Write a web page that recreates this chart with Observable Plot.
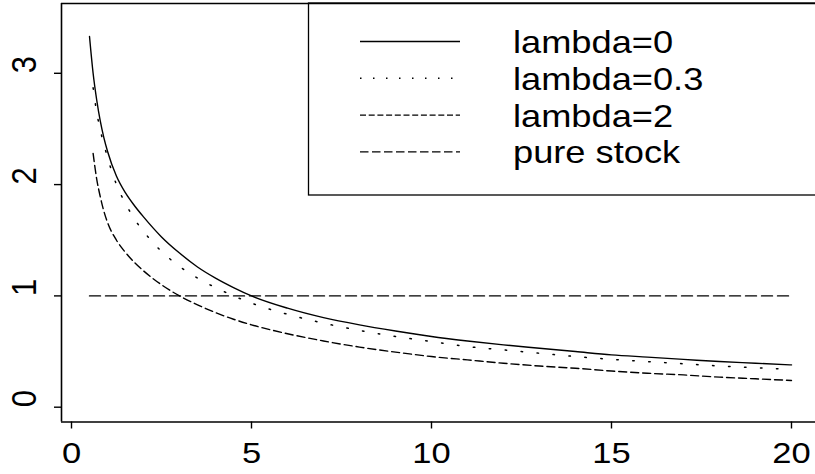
<!DOCTYPE html>
<html><head><meta charset="utf-8">
<script src="https://cdn.jsdelivr.net/npm/d3@7"></script>
<script src="https://cdn.jsdelivr.net/npm/@observablehq/plot@0.6"></script>
<style>
body{margin:0;background:#fff;}
svg{display:block;font-family:"Liberation Sans",Arial,Helvetica,sans-serif;}
</style>
</head><body><div id="chart"></div>
<script>
// x values
const xsA = [0.5,0.6,0.7,0.8,0.9,1,1.25,1.5,1.75,2,2.5,3,3.5,4,4.5,5,6,7,8,9,10,11,12,13,14,15,16,17,18,19,20];
const xsB = [0.6,0.7,0.8,0.9,1,1.25,1.5,1.75,2,2.5,3,3.5,4,4.5,5,6,7,8,9,10,11,12,13,14,15,16,17,18,19,20];
// series
const lambda0  = [3.33,3.00,2.76,2.57,2.42,2.30,2.075,1.925,1.81,1.71,1.53,1.385,1.26,1.16,1.075,1.00,0.89,0.805,0.74,0.685,0.635,0.595,0.56,0.53,0.50,0.47,0.45,0.43,0.41,0.395,0.38];
const lambda03 = [2.87,2.65,2.49,2.36,2.245,2.00,1.83,1.69,1.58,1.40,1.265,1.16,1.075,1.00,0.935,0.835,0.755,0.69,0.635,0.59,0.545,0.515,0.485,0.455,0.43,0.41,0.39,0.37,0.355,0.34];
const lambda2  = [2.28,2.05,1.89,1.76,1.66,1.50,1.39,1.30,1.225,1.10,1.00,0.92,0.85,0.79,0.74,0.66,0.595,0.54,0.495,0.455,0.425,0.395,0.37,0.35,0.325,0.305,0.29,0.27,0.255,0.24];
const stockX = [0.5, 20];
const stockY = [1, 1];
// ticks and labels
const xTicks = [0,5,10,15,20];
const yTicks = [0,1,2,3];
const legendLabels = ["lambda=0","lambda=0.3","lambda=2","pure stock"];

const xDomain = [-0.278, 20.667];
const yDomain = [-0.133, 3.627];

const rows = (xs, ys) => xs.map((x,i)=>({x, y: ys[i]}));
const r0 = rows(xsA, lambda0), r03 = rows(xsB, lambda03), r2 = rows(xsB, lambda2), rs = rows(stockX, stockY);

const dashMain = ["none","1.5,14.5","8,4","11,5"];
const dashLegend = ["none","1.5,11.5","6,2.7","8.5,3.5"];

const plot = Plot.plot({
  width: 815, height: 474,
  marginLeft: 61, marginRight: 0, marginTop: 3, marginBottom: 52.5,
  x: {domain: xDomain, label: null},
  y: {domain: yDomain, label: null},
  style: {fontFamily: '"Liberation Sans",Arial,Helvetica,sans-serif', fontSize: "29px", color: "#000", background: "#fff", overflow: "visible"},
  marks: [
    Plot.line(r0,  {x:"x", y:"y", stroke:"#000", strokeWidth:1.4, curve:"monotone-x"}),
    Plot.line(r03, {x:"x", y:"y", stroke:"#000", strokeWidth:1.5, curve:"monotone-x", strokeDasharray: dashMain[1]}),
    Plot.line(r2,  {x:"x", y:"y", stroke:"#000", strokeWidth:1.4, curve:"monotone-x", strokeDasharray: dashMain[2]}),
    Plot.line(rs,  {x:"x", y:"y", stroke:"#000", strokeWidth:1.4, strokeDasharray: dashMain[3]}),
    Plot.ruleX([xDomain[0]], {stroke:"#000", strokeWidth:1.6}),
    Plot.ruleY([yDomain[0], yDomain[1]], {stroke:"#000", strokeWidth:1.6}),
    Plot.axisX({ticks: xTicks, tickSize: 7, tickPadding: 13, fontSize: 30, strokeWidth: 1.4, tickFormat: d => String(d)}),
    Plot.axisY({ticks: yTicks, tickSize: 7, strokeWidth: 1.4, tickFormat: () => ""}),
    Plot.text(yTicks, {y: d => d, frameAnchor: "left", dx: -37, rotate: -90, text: d => String(d), fontSize: 31})
  ]
});
document.getElementById("chart").appendChild(plot);

// legend
const svg = d3.select(plot);
const lg = svg.append("g").attr("text-anchor", "start");
lg.append("rect").attr("x", 308.5).attr("y", 3).attr("width", 520).attr("height", 192)
  .attr("fill", "none").attr("stroke", "#000").attr("stroke-width", 1.3);
legendLabels.forEach((lab, i) => {
  const yy = 41.5 + i * 36.8;
  lg.append("line").attr("x1", 360).attr("x2", 460).attr("y1", yy).attr("y2", yy)
    .attr("stroke", "#000").attr("stroke-width", i === 1 ? 1.5 : 1.3)
    .attr("stroke-dasharray", dashLegend[i]);
  lg.append("text").attr("x", 513).attr("y", yy + 11.5).attr("font-size", 31.5)
    .attr("text-anchor", "start").attr("fill", "#000").text(lab);
});

// horizontal glyph stretch to match the reference's aspect
const SX = 1.15;
plot.querySelectorAll("text").forEach(t => {
  const tr = t.getAttribute("transform") || "";
  if (tr.includes("rotate")) {
    t.setAttribute("transform", tr + " scale(1," + SX + ")");
    return;
  }
  const len = t.getComputedTextLength();
  if (len > 0) {
    t.setAttribute("textLength", len * SX);
    t.setAttribute("lengthAdjust", "spacingAndGlyphs");
  }
});
</script>
</body></html>
